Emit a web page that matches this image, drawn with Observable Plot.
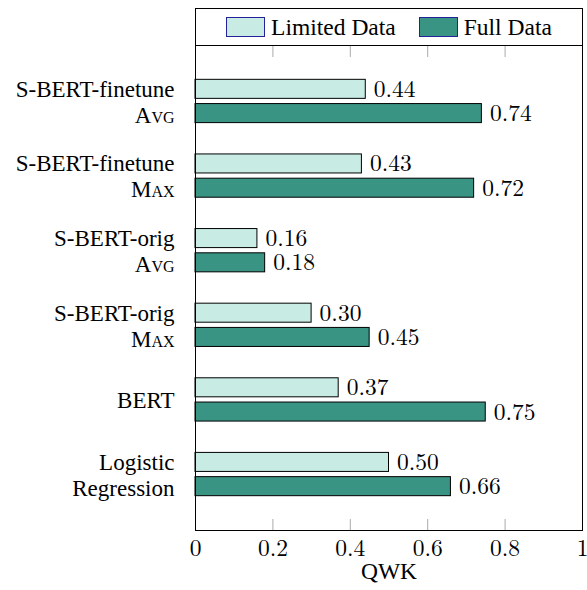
<!DOCTYPE html>
<html>
<head>
<meta charset="utf-8">
<script src="https://cdn.jsdelivr.net/npm/d3@7"></script>
<script src="https://cdn.jsdelivr.net/npm/@observablehq/plot@0.6"></script>
<style>
  html, body { margin: 0; padding: 0; background: #fff; }
  #wrap { position: relative; width: 587px; height: 590px; }
  .sw { display: inline-block; width: 37px; height: 18px; border: 1.5px solid #22229a; margin-right: 6px; }
  .item { display: flex; align-items: center; }
</style>
</head>
<body>
<div id="wrap"></div>
<script>
const categories = ["S-BERT-finetune\nAvg", "S-BERT-finetune\nMax", "S-BERT-orig\nAvg", "S-BERT-orig\nMax", "BERT", "Logistic\nRegression"];
const limitedData = [0.44, 0.43, 0.16, 0.30, 0.37, 0.50];
const fullData = [0.74, 0.72, 0.18, 0.45, 0.75, 0.66];
const seriesNames = ["Limited Data", "Full Data"];
const seriesColors = ["#c8ebe4", "#3a9484"];
const xTicks = [0, 0.2, 0.4, 0.6, 0.8, 1];
const xLabel = "QWK";

const rows = [];
categories.forEach((c, i) => {
  rows.push({i, series: 0, value: limitedData[i]});
  rows.push({i, series: 1, value: fullData[i]});
});
const off = [[-0.29, -0.035], [0.035, 0.29]];

const serif = "Liberation Serif";
const math = "Latin Modern Roman";
const chart = Plot.plot({
  width: 587,
  height: 590,
  marginLeft: 195,
  marginRight: 5,
  marginTop: 45,
  marginBottom: 60,
  style: {fontSize: "23px", color: "#000", background: "#fff", overflow: "visible"},
  x: {domain: [0, 1]},
  y: {domain: [-0.75, 5.75], reverse: true, axis: null},
  marks: [
    Plot.ruleX(xTicks.slice(1, -1), {stroke: "#aaa", strokeWidth: 1, insetTop: 474}),
    Plot.ruleX(xTicks.slice(1, -1), {stroke: "#aaa", strokeWidth: 1, insetBottom: 473}),
    Plot.rectX(rows, {
      x1: 0, x2: "value",
      y1: d => d.i + off[d.series][0],
      y2: d => d.i + off[d.series][1],
      fill: d => seriesColors[d.series],
      stroke: "#000", strokeWidth: 1
    }),
    Plot.text(rows, {
      x: "value", y: d => d.i + (off[d.series][0] + off[d.series][1]) / 2,
      text: d => d.value.toFixed(2), textAnchor: "start", dx: 8, fontSize: 23.5, fill: "#000", fontFamily: math
    }),
    Plot.text(categories, {
      x: 0, y: (d, i) => i, text: d => d, textAnchor: "end", dx: -21, lineHeight: 1.13, fontSize: 23, fill: "#000", fontFamily: serif
    }),
    Plot.axisX({ticks: xTicks, tickFormat: d => d === 0 ? "0" : d === 1 ? "1" : d.toFixed(1), tickSize: 0, tickPadding: 9, label: null, fontSize: 23.5, fontFamily: math}),
    Plot.text([xLabel], {frameAnchor: "bottom", dy: 48, fontSize: 23.5, fill: "#000", fontFamily: serif}),
    Plot.frame({stroke: "#000", strokeWidth: 1})
  ]
});

// small caps for Avg / Max lines
d3.select(chart).selectAll("tspan").each(function() {
  const t = this.textContent;
  if (t === "Avg" || t === "Max") this.style.fontVariant = "small-caps";
});

const wrap = document.getElementById("wrap");
wrap.appendChild(chart);
chart.style.position = "absolute";
chart.style.left = "0";
chart.style.top = "0";
const legend = document.createElement("div");
legend.setAttribute("style", "position:absolute;left:195px;top:8px;width:388px;height:37px;box-sizing:border-box;border:1px solid #000;border-bottom:none;background:#fff;display:flex;align-items:center;justify-content:center;font-size:23.5px;color:#000;font-family:'Liberation Serif'");
seriesNames.forEach((name, k) => {
  const item = document.createElement("span");
  item.className = "item";
  item.style.marginRight = k === 0 ? "23px" : "0";
  const sw = document.createElement("span");
  sw.className = "sw";
  sw.style.background = seriesColors[k];
  item.appendChild(sw);
  item.appendChild(document.createTextNode(name));
  legend.appendChild(item);
});
wrap.appendChild(legend);
</script>
</body>
</html>
